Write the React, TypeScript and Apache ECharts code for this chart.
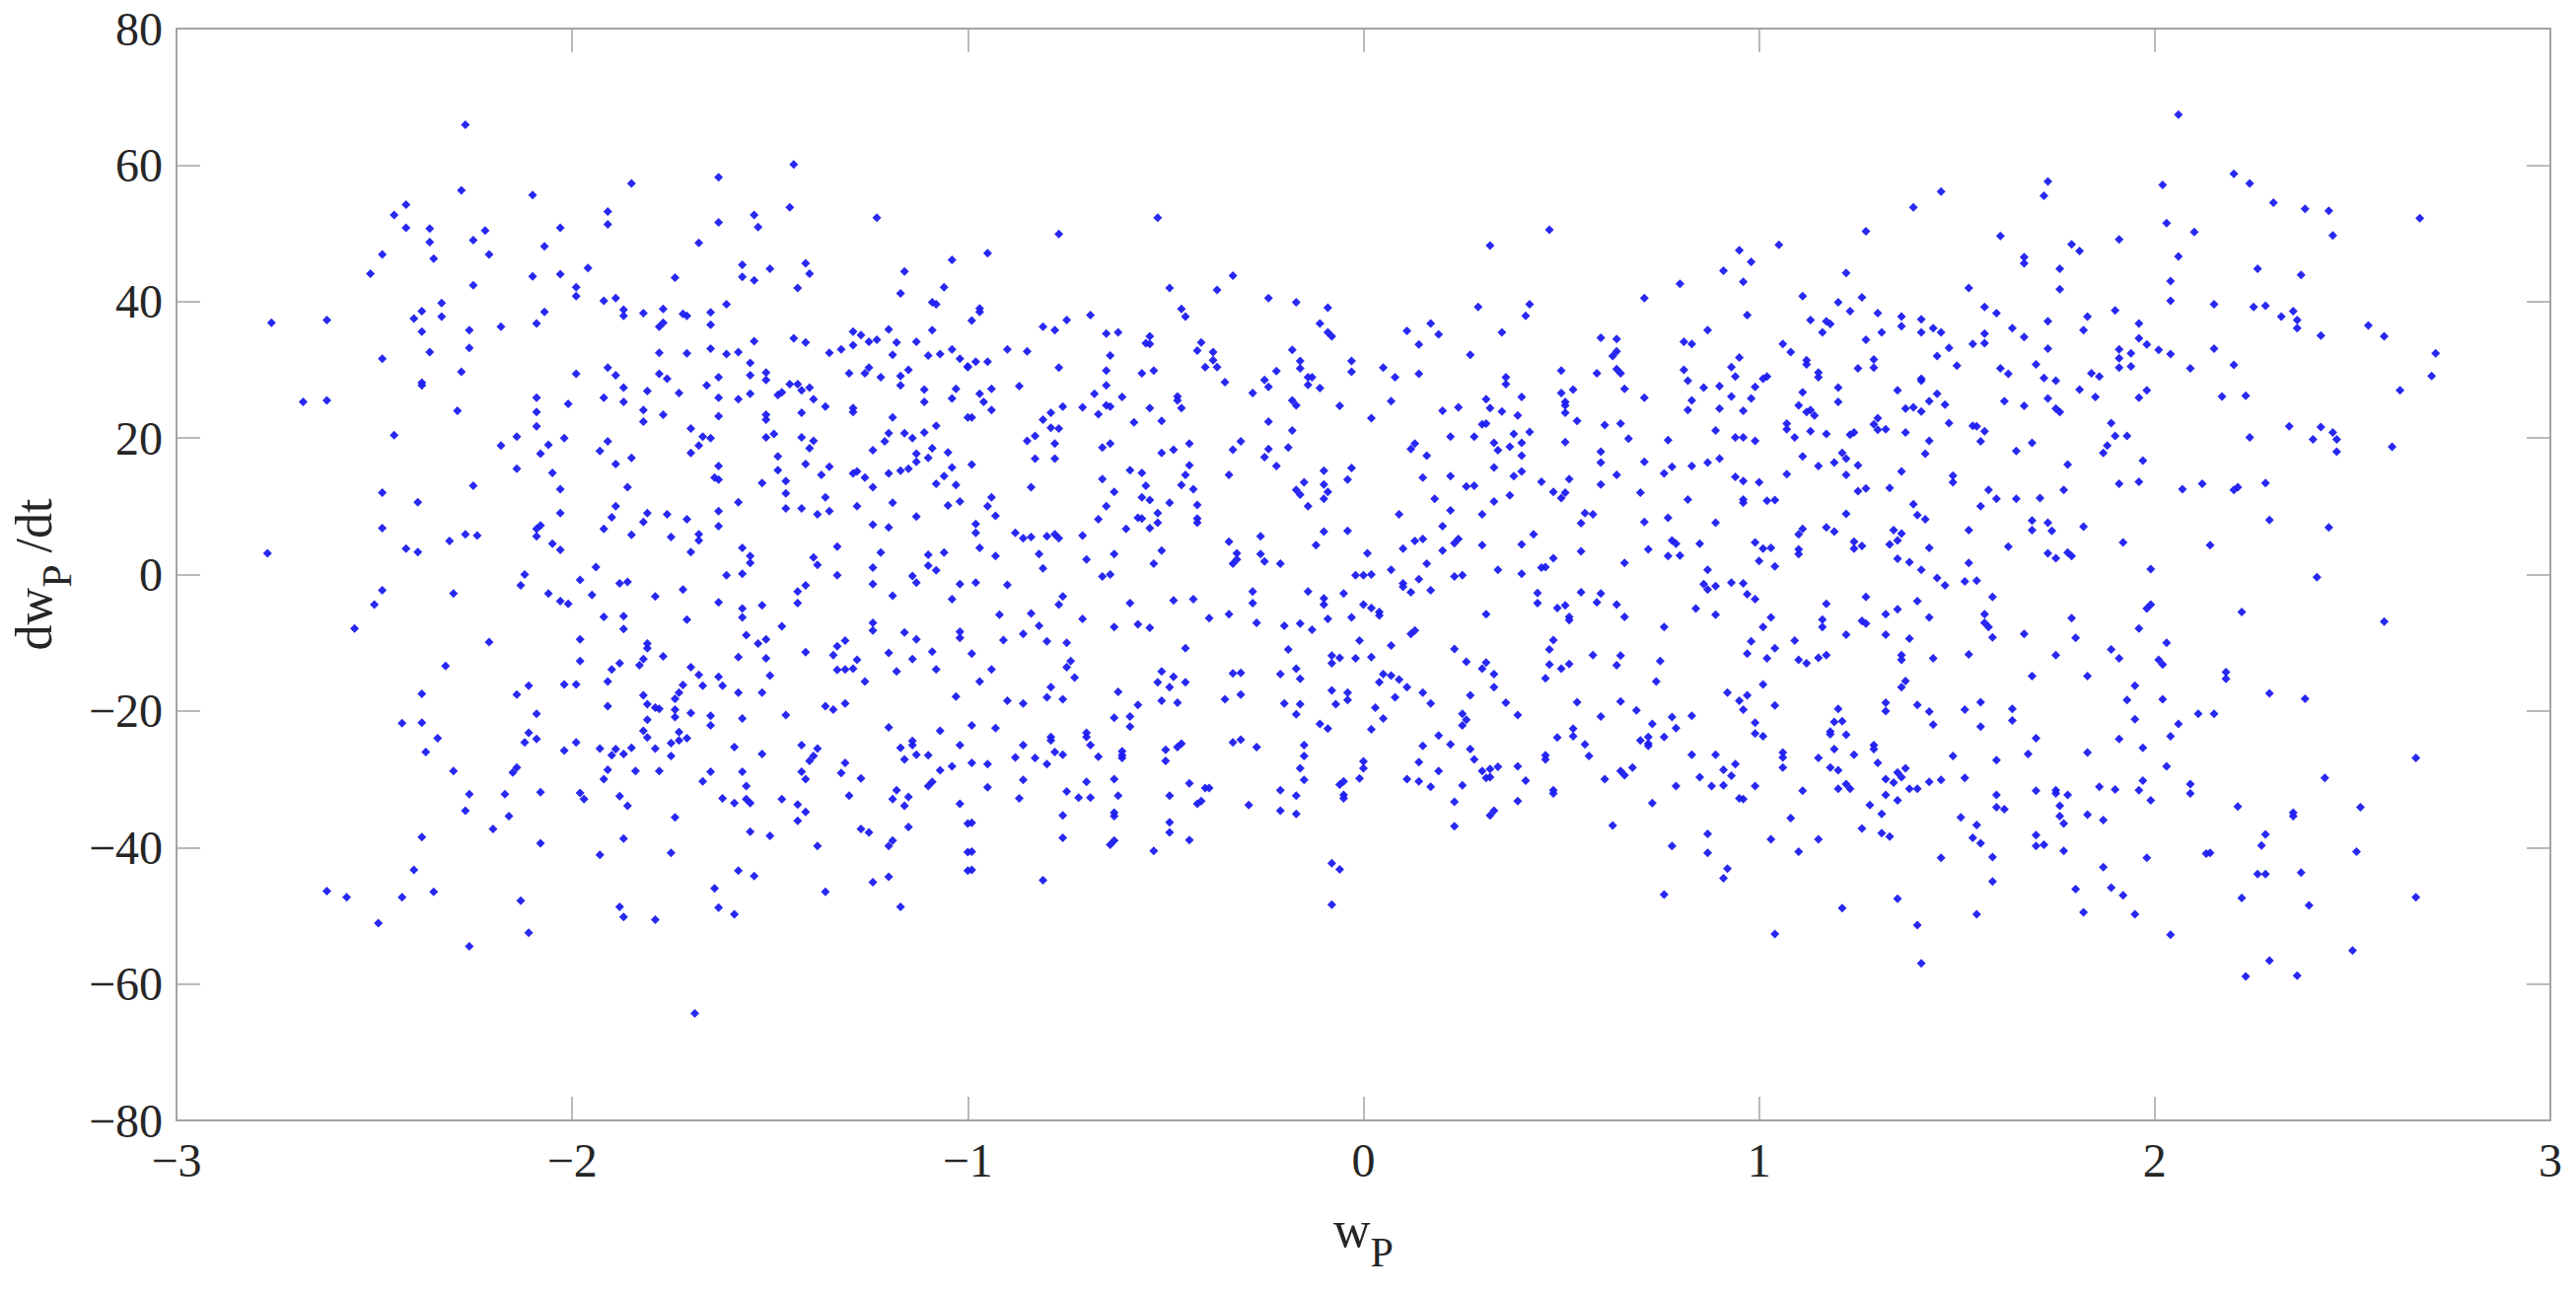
import React, { useEffect, useRef } from "react";
import * as echarts from "echarts";

const xTickValues = [-3, -2, -1, 0, 1, 2, 3];
const yTickValues = [-80, -60, -40, -20, 0, 20, 40, 60, 80];

const upperLeft: number[][] = [[-2.27,65.9],[-1.85,57.3],[-1.63,58.2],[-1.44,60.1],[-2.28,56.3],[-2.10,55.6],[-2.42,54.2],[-2.45,52.7],[-2.42,50.8],[-2.36,50.7],[-2.36,48.7],[-2.35,46.3],[-2.25,49.0],[-2.22,50.4],[-2.48,46.9],[-2.21,46.9],[-2.51,44.1],[-2.25,42.4],[-2.03,50.8],[-2.07,48.1],[-1.91,53.2],[-1.91,51.3],[-1.63,51.6],[-1.68,48.6],[-1.54,52.7],[-1.53,50.9],[-1.45,53.8],[-1.23,52.3],[-2.10,43.7],[-2.03,44.0],[-1.96,44.9],[-1.99,42.1],[-1.99,40.8],[-1.92,40.1],[-1.89,40.5],[-1.74,43.5],[-1.57,45.4],[-1.57,43.6],[-1.54,43.1],[-1.50,44.8],[-1.41,45.6],[-1.40,44.1],[-1.43,42.0],[-1.16,44.4],[-1.17,41.2],[-1.04,46.1],[-1.06,42.1],[-1.09,39.9],[-1.08,39.6],[-2.76,36.9],[-2.62,37.3],[-2.40,37.5],[-2.38,38.6],[-2.33,39.8],[-2.33,37.8],[-2.38,35.6],[-2.26,35.8],[-2.18,36.3],[-2.07,38.5],[-2.09,36.8],[-2.26,33.2],[-2.36,32.6],[-2.48,31.6],[-2.28,29.7],[-2.38,28.1],[-2.38,27.7],[-2.68,25.3],[-2.62,25.5],[-2.29,24.0],[-2.45,20.4],[-1.87,38.8],[-1.87,37.9],[-1.82,38.3],[-1.77,38.9],[-1.77,36.9],[-1.78,36.3],[-1.72,38.2],[-1.71,37.9],[-1.65,38.4],[-1.65,36.6],[-1.61,39.6],[-1.54,34.2],[-1.44,34.6],[-1.41,34.0],[-1.29,35.6],[-1.27,35.1],[-1.25,34.1],[-1.23,34.4],[-1.20,35.9],[-1.18,34.0],[-1.13,34.1],[-1.09,35.8],[-1.78,32.5],[-1.71,32.4],[-1.65,33.1],[-1.61,32.3],[-1.58,32.6],[-1.35,32.5],[-1.32,33.0],[-1.29,33.6],[-1.19,32.2],[-1.10,32.1],[-1.07,32.3],[-1.04,33.0],[-1.02,31.6],[-1.00,30.5],[-1.55,31.0],[-1.99,29.4],[-1.91,30.3],[-1.89,29.2],[-1.78,29.4],[-1.76,28.7],[-1.63,28.9],[-1.55,29.2],[-1.51,29.6],[-1.51,28.5],[-1.30,29.5],[-1.26,29.5],[-1.25,30.3],[-1.22,28.9],[-1.17,29.1],[-1.17,27.7],[-1.15,30.0],[-1.66,27.7],[-1.87,27.4],[-1.81,26.9],[-1.73,26.6],[-1.45,27.9],[-1.43,27.9],[-1.42,27.0],[-1.40,27.4],[-1.48,26.3],[-1.47,26.7],[-1.55,26.5],[-2.09,25.9],[-1.92,25.9],[-1.87,25.3],[-2.01,25.0],[-1.63,25.9],[-1.58,25.7],[-1.39,25.7],[-1.36,24.6],[-1.11,27.1],[-1.11,25.3],[-1.03,27.2],[-1.04,25.8],[-1.29,24.4],[-1.29,23.8],[-2.09,23.8],[-1.82,24.1],[-1.82,22.4],[-1.77,23.4],[-1.63,23.2],[-1.51,23.4],[-1.51,22.7],[-1.42,23.7],[-1.19,23.0],[-1.00,23.0],[-2.09,21.7],[-1.70,21.4],[-1.08,21.8],[-2.14,20.2],[-2.18,18.9],[-2.02,20.0],[-2.06,19.0],[-2.08,17.7],[-1.91,19.5],[-1.93,18.1],[-1.67,20.2],[-1.65,20.0],[-1.68,18.9],[-1.70,17.8],[-1.51,20.1],[-1.49,20.6],[-1.42,20.1],[-1.39,19.6],[-1.40,18.5],[-1.20,20.7],[-1.21,19.5],[-1.16,20.7],[-1.14,20.0],[-1.11,20.8],[-1.24,18.2],[-1.09,18.5],[-1.05,17.9],[-1.13,17.7],[-1.48,17.3],[-1.85,17.1],[-1.89,16.2],[-1.41,16.2],[-1.63,15.9],[-1.35,15.8],[-1.10,17.1],[-1.13,16.5],[-1.15,15.5],[-1.17,15.2],[-1.04,15.7],[-2.14,15.5],[-2.05,14.9],[-1.48,15.3],[-1.37,14.6],[-1.29,14.8],[-1.28,15.1],[-1.26,14.2],[-1.20,14.8],[-1.06,14.4],[-1.08,13.3],[-1.64,14.2],[-1.63,13.9],[-1.46,13.7],[-1.52,13.4],[-1.24,12.8],[-1.03,13.1],[-2.25,13.0],[-1.86,12.8],[-2.03,12.5],[-2.48,12.0],[-1.46,11.9],[-1.36,11.3],[-2.39,10.6],[-1.58,10.6],[-1.19,10.5],[-1.02,10.7],[-1.05,10.1],[-1.28,10.0],[-1.89,10.0],[-1.46,9.7],[-1.42,9.7],[-1.63,9.3],[-2.03,9.0],[-1.81,9.0],[-1.76,8.8],[-1.35,9.3],[-1.38,8.8],[-1.90,8.4],[-1.71,8.1],[-1.13,8.5],[-1.82,7.7],[-1.24,7.3],[-1.63,7.1],[-1.20,6.9],[-2.48,6.8],[-2.08,7.2],[-2.09,6.7],[-1.92,6.7],[-2.09,5.6],[-1.85,5.8],[-1.75,5.5],[-1.68,5.9],[-1.68,5.0],[-2.27,5.9],[-2.24,5.7],[-2.31,4.9],[-2.42,3.8],[-2.39,3.3],[-2.05,4.5],[-2.03,3.6],[-1.70,3.3],[-1.57,3.9],[-1.55,2.7],[-1.55,1.7],[-1.39,2.5],[-1.38,1.4],[-1.33,4.1],[-1.22,3.2],[-1.10,2.9],[-1.06,3.2],[-1.10,1.3],[-1.08,0.6],[-1.24,1.0],[-1.94,1.1],[-2.77,3.1]];

const lowerLeft: number[][] = [[-2.12,0.0],[-1.61,-0.1],[-1.57,0.1],[-1.33,-0.1],[-1.14,-0.2],[-1.13,-1.2],[-2.48,-2.3],[-2.50,-4.4],[-2.55,-7.9],[-2.30,-2.8],[-2.13,-1.6],[-1.98,-0.8],[-1.88,-1.3],[-1.86,-1.1],[-2.06,-2.8],[-2.03,-3.9],[-2.01,-4.3],[-1.95,-3.0],[-1.79,-3.2],[-1.72,-2.2],[-1.63,-4.1],[-1.57,-5.0],[-1.57,-6.3],[-1.52,-4.5],[-1.43,-2.5],[-1.41,-1.6],[-1.43,-4.2],[-1.24,-1.4],[-1.19,-3.1],[-1.04,-3.6],[-1.02,-1.4],[-1.92,-6.2],[-1.87,-6.1],[-1.87,-8.0],[-1.71,-6.6],[-1.47,-7.6],[-1.24,-7.1],[-1.24,-8.2],[-1.16,-8.5],[-1.13,-9.5],[-1.02,-8.4],[-1.02,-9.3],[-1.98,-9.5],[-2.21,-9.9],[-1.56,-8.9],[-1.53,-10.1],[-1.51,-9.5],[-1.31,-9.7],[-1.33,-10.5],[-1.81,-10.1],[-1.81,-10.8],[-1.77,-12.0],[-1.82,-12.4],[-1.83,-13.3],[-1.41,-11.4],[-1.34,-11.8],[-1.20,-11.5],[-1.09,-11.3],[-1.58,-12.1],[-1.51,-12.3],[-1.14,-12.4],[-1.98,-12.7],[-1.88,-13.0],[-1.90,-13.9],[-2.32,-13.4],[-1.28,-12.5],[-1.33,-14.0],[-1.31,-13.9],[-1.29,-13.8],[-1.18,-14.2],[-1.08,-13.9],[-1.70,-13.6],[-1.68,-14.7],[-1.63,-15.0],[-1.50,-14.8],[-1.91,-15.7],[-1.26,-15.7],[-2.02,-16.1],[-1.99,-16.1],[-2.11,-16.3],[-1.72,-16.2],[-1.67,-16.3],[-1.62,-16.3],[-2.14,-17.6],[-2.38,-17.5],[-1.82,-17.7],[-1.73,-17.3],[-1.74,-18.2],[-1.58,-17.3],[-1.52,-17.3],[-1.03,-17.9],[-1.81,-19.0],[-1.79,-19.5],[-1.78,-19.7],[-1.91,-19.3],[-1.31,-18.9],[-1.36,-19.3],[-1.34,-19.8],[-1.74,-19.8],[-1.74,-20.9],[-1.70,-20.3],[-2.09,-20.4],[-1.65,-20.7],[-1.46,-20.6],[-1.57,-21.1],[-1.81,-21.3],[-2.43,-21.8],[-2.38,-21.7],[-1.65,-22.1],[-1.20,-22.4],[-1.07,-22.9],[-1.82,-22.9],[-1.81,-23.9],[-2.11,-23.2],[-1.73,-23.1],[-2.09,-24.1],[-2.34,-24.0],[-1.73,-24.3],[-1.71,-24.0],[-1.75,-24.7],[-2.12,-24.6],[-1.99,-24.6],[-1.42,-25.0],[-1.59,-25.3],[-1.14,-24.4],[-1.14,-25.0],[-1.02,-25.0],[-2.02,-25.8],[-2.37,-26.0],[-1.93,-25.5],[-1.89,-25.6],[-1.90,-26.5],[-1.87,-26.3],[-1.85,-25.4],[-1.79,-25.5],[-1.75,-26.6],[-1.52,-26.3],[-1.38,-25.5],[-1.39,-26.6],[-1.40,-27.3],[-1.17,-25.4],[-1.16,-27.1],[-1.13,-26.4],[-1.10,-26.5],[-1.31,-27.6],[-1.32,-29.1],[-2.14,-28.3],[-2.15,-29.0],[-2.30,-28.8],[-1.91,-28.6],[-1.84,-28.8],[-1.78,-28.8],[-1.65,-28.9],[-1.57,-28.9],[-1.42,-28.9],[-1.04,-28.1],[-1.07,-28.7],[-1.41,-30.0],[-1.92,-30.0],[-1.67,-30.3],[-1.27,-29.9],[-1.09,-30.4],[-1.10,-31.0],[-1.56,-31.0],[-2.26,-32.2],[-2.17,-32.2],[-2.08,-31.9],[-1.98,-32.0],[-1.97,-32.9],[-1.88,-32.5],[-1.86,-33.9],[-1.62,-32.8],[-1.59,-33.5],[-1.56,-32.9],[-1.55,-33.5],[-1.47,-32.9],[-1.30,-32.4],[-1.18,-31.6],[-1.19,-32.9],[-1.15,-32.6],[-1.16,-33.9],[-1.43,-33.7],[-1.41,-34.8],[-1.02,-33.6],[-2.27,-34.6],[-2.16,-35.4],[-1.74,-35.6],[-1.43,-36.1],[-1.00,-36.5],[-2.20,-37.3],[-1.55,-37.7],[-1.50,-38.3],[-1.27,-37.3],[-1.25,-37.8],[-1.15,-37.0],[-2.38,-38.5],[-2.08,-39.4],[-1.87,-38.7],[-1.38,-39.8],[-1.19,-39.0],[-1.20,-39.8],[-1.93,-41.1],[-1.75,-40.8],[-1.00,-40.7],[-2.40,-43.3],[-1.58,-43.4],[-1.54,-44.2],[-1.00,-43.4],[-1.20,-44.3],[-1.24,-45.1],[-2.62,-46.4],[-2.57,-47.3],[-2.43,-47.3],[-2.35,-46.5],[-1.64,-46.0],[-1.36,-46.5],[-2.13,-47.8],[-1.88,-48.7],[-1.87,-50.2],[-1.63,-48.8],[-1.59,-49.8],[-1.79,-50.6],[-1.17,-48.7],[-2.49,-51.1],[-2.11,-52.5],[-2.26,-54.5],[-1.69,-64.3]];

const upperMiddle: number[][] = [[-0.52,52.3],[-0.77,49.9],[-0.95,47.1],[0.47,50.5],[0.32,48.2],[0.95,47.5],[0.98,45.8],[0.91,44.5],[0.96,42.9],[0.80,42.6],[-0.33,43.8],[-0.49,42.0],[-0.37,41.7],[-0.24,40.5],[-0.17,39.9],[-0.09,39.1],[0.71,40.5],[0.29,39.2],[0.42,39.6],[0.41,37.9],[0.97,38.0],[-0.97,39.0],[-0.97,38.5],[-0.99,37.2],[-0.81,36.3],[-0.78,35.8],[-0.75,37.3],[-0.69,38.0],[-0.65,35.3],[-0.62,35.5],[-0.54,34.9],[-0.55,33.9],[-0.54,33.8],[-0.46,38.9],[-0.45,37.8],[-0.11,36.8],[-0.09,35.5],[-0.08,34.9],[0.11,35.7],[0.17,36.8],[0.19,35.2],[0.14,33.7],[0.35,35.5],[0.60,34.7],[0.64,34.5],[0.81,34.1],[0.83,33.8],[0.87,35.8],[-0.41,34.0],[-0.42,32.8],[-0.38,32.6],[-0.90,33.0],[-0.85,32.7],[-0.18,32.9],[-0.64,32.1],[0.27,32.2],[0.64,32.7],[0.63,32.0],[0.95,31.8],[-0.03,31.3],[-0.16,31.3],[-0.16,30.2],[-0.38,31.4],[-0.40,30.4],[-0.37,30.4],[-0.95,31.2],[-0.98,31.2],[-1.00,30.4],[-0.77,30.3],[-0.65,29.9],[-0.56,29.5],[-0.53,29.9],[-0.22,29.8],[-0.03,29.7],[0.05,30.3],[0.14,29.4],[0.50,29.9],[0.59,29.5],[0.64,30.1],[0.65,29.5],[0.81,30.0],[0.93,30.4],[0.94,29.0],[-0.25,28.5],[0.08,28.9],[-0.14,28.9],[-0.13,28.9],[-0.14,27.8],[-0.35,28.2],[0.36,28.9],[0.36,27.9],[0.82,28.4],[-0.87,27.6],[-0.65,27.7],[-0.24,27.5],[-0.11,27.3],[0.86,27.4],[0.90,27.6],[0.99,27.5],[0.66,27.2],[0.53,27.1],[-0.94,27.2],[-0.97,26.5],[-0.68,26.5],[-0.28,26.6],[0.50,26.6],[-0.96,25.3],[-0.61,26.0],[-0.47,26.1],[-0.47,25.5],[0.40,26.0],[0.71,25.9],[0.31,25.7],[-0.18,25.5],[-0.17,24.8],[0.07,25.4],[0.93,26.1],[0.98,25.8],[0.83,25.5],[0.51,25.3],[0.51,24.8],[-0.65,24.8],[-0.64,24.6],[-0.76,24.6],[-0.71,24.5],[-0.54,24.4],[-0.46,24.4],[-0.06,24.7],[0.24,24.5],[0.32,24.4],[0.82,24.1],[0.90,24.3],[0.96,24.0],[-0.94,24.1],[0.20,24.0],[0.35,23.9],[0.51,23.7],[-0.79,23.7],[-0.67,23.5],[-0.81,22.7],[-0.99,23.0],[0.02,22.9],[0.39,23.3],[-0.58,22.3],[-0.51,22.5],[-0.24,22.4],[0.54,22.5],[0.30,22.0],[0.31,22.1],[0.61,21.9],[0.65,22.1],[-0.79,21.5],[-0.77,21.4],[-0.18,21.1],[0.89,21.1],[0.42,20.9],[-0.83,20.3],[-0.85,19.6],[0.38,20.6],[0.22,20.2],[0.28,20.2],[0.94,20.1],[0.96,20.1],[0.67,19.9],[0.77,19.7],[0.99,19.6],[0.51,19.4],[0.40,19.3],[0.33,19.3],[-0.78,19.2],[-0.44,19.2],[-0.64,19.2],[-0.66,18.6],[-0.31,19.5],[-0.33,18.3],[0.13,19.2],[0.12,18.4],[0.37,18.7],[0.34,18.2],[-0.19,18.6],[-0.24,18.4],[-0.48,18.3],[-0.51,17.8],[0.60,18.0],[0.16,17.4],[0.40,17.4],[-0.83,17.0],[-0.78,17.0],[-0.25,17.2],[0.90,17.0],[0.87,16.4],[0.60,16.4],[0.71,16.5],[-0.99,16.1],[-0.44,16.0],[-0.22,15.9],[0.78,15.8],[0.83,15.9],[0.33,15.7],[-0.03,15.6],[-0.59,15.3],[-0.56,14.9],[-0.10,15.2],[0.40,15.1],[0.76,14.8],[-0.45,14.6],[-0.34,14.6],[0.38,14.4],[0.64,14.6],[0.15,14.2],[0.22,14.4],[-0.66,14.0],[-0.04,13.9],[0.52,14.0],[0.94,14.3],[0.96,13.7],[0.45,13.6],[-0.15,13.5],[0.60,13.2],[-0.10,13.2],[-0.84,12.8],[-0.55,13.0],[-0.46,13.1],[-0.43,12.5],[0.26,12.9],[0.28,13.0],[-0.17,12.4],[-0.16,11.7],[-0.63,12.1],[-0.09,12.1],[0.48,12.1],[0.51,12.0],[0.70,12.0],[0.37,11.6],[-0.94,11.3],[-0.56,11.3],[-0.54,10.9],[0.18,11.1],[0.50,11.2],[-0.10,11.1],[0.82,11.0],[0.33,10.7],[0.96,11.0],[0.96,10.5],[-0.49,10.5],[-0.95,10.0],[-0.65,10.0],[-0.42,10.2],[-0.14,10.0],[0.22,9.4],[-0.52,9.0],[0.09,8.8],[0.30,8.8],[0.56,9.0],[0.58,8.8],[-0.93,8.6],[-0.57,8.3],[-0.56,8.2],[-0.67,8.1],[-0.42,8.2],[-0.42,7.6],[0.77,8.3],[0.71,7.7],[0.55,7.5],[0.89,7.6],[-0.98,7.4],[-0.98,6.1],[-0.52,7.6],[-0.54,6.8],[0.20,7.1],[-0.60,6.7],[-0.04,6.4],[-0.10,6.3],[-0.88,6.1],[-0.86,5.3],[-0.84,5.5],[-0.80,5.6],[-0.78,5.9],[-0.77,5.3],[-0.71,5.7],[-0.26,5.6],[0.43,5.9],[0.13,4.9],[0.15,5.2],[0.24,5.2],[0.23,4.6],[-0.34,4.8],[0.78,5.0],[0.79,4.5],[-0.12,4.3],[0.10,3.8],[0.30,4.3],[0.40,4.4],[0.85,4.5],[0.99,4.7],[-0.97,3.9],[0.72,3.7],[0.20,3.5],[0.55,3.4],[-0.51,3.5],[-0.82,3.0],[-0.63,3.0],[0.01,3.1],[-0.93,2.7],[0.77,2.7],[0.80,2.8],[-0.26,3.0],[-0.25,1.9],[-0.32,3.1],[-0.32,2.2],[-0.33,1.6],[0.48,2.4],[-0.70,2.2],[-0.21,1.6],[-0.53,1.6],[0.16,1.6],[0.66,1.7],[-0.81,0.9],[0.45,1.0],[0.46,1.1],[0.34,0.7],[0.07,0.7],[0.87,0.7]];

const lowerMiddle: number[][] = [[-0.98,-1.2],[-0.90,-1.5],[-0.66,-0.3],[-0.64,0.0],[-0.02,-0.1],[0.00,-0.1],[0.02,0.0],[0.23,-0.3],[0.25,-0.1],[0.40,0.1],[0.10,-1.3],[0.10,-1.8],[0.14,-0.7],[0.12,-2.6],[0.17,-2.3],[0.86,-1.4],[0.87,-2.2],[0.89,-1.7],[0.93,-1.2],[0.96,-1.3],[0.97,-2.9],[0.99,-3.6],[-0.28,-2.5],[-0.28,-4.2],[-0.76,-3.2],[-0.77,-4.4],[-0.59,-4.2],[-0.48,-3.8],[-0.43,-3.6],[-0.14,-2.5],[-0.10,-3.5],[-0.10,-4.4],[-0.05,-2.8],[0.44,-2.7],[0.44,-4.2],[0.55,-2.6],[0.60,-2.8],[0.59,-4.1],[0.64,-4.4],[0.49,-4.9],[0.51,-4.5],[0.00,-4.4],[0.02,-4.9],[0.04,-5.5],[0.04,-6.0],[0.84,-5.0],[-0.92,-5.9],[-0.84,-5.7],[-0.34,-5.8],[0.31,-5.8],[0.66,-6.2],[0.89,-5.9],[-0.71,-6.5],[-0.39,-6.4],[-0.09,-6.5],[-0.03,-6.3],[0.52,-6.2],[0.52,-6.7],[-0.82,-7.5],[-0.63,-7.7],[-0.57,-7.3],[-0.54,-7.8],[-0.27,-7.1],[-0.20,-7.5],[-0.16,-7.2],[-0.13,-8.1],[0.76,-7.7],[0.13,-8.2],[0.12,-8.7],[-0.86,-8.7],[-0.91,-9.6],[-0.80,-9.8],[-0.75,-10.0],[-0.01,-9.7],[0.07,-10.4],[0.48,-9.6],[0.47,-11.0],[0.98,-9.8],[-0.45,-10.8],[-0.19,-11.0],[0.23,-10.9],[-0.99,-11.6],[0.97,-11.6],[-0.08,-11.9],[-0.06,-12.2],[-0.08,-13.0],[-0.02,-12.3],[0.02,-12.1],[0.58,-11.8],[0.65,-11.9],[0.64,-13.3],[-0.74,-12.7],[-0.75,-13.6],[0.26,-12.8],[0.31,-12.9],[0.30,-13.8],[0.47,-13.2],[0.52,-13.1],[0.50,-13.8],[0.75,-12.7],[-0.94,-13.9],[-0.17,-13.8],[-0.51,-14.2],[-0.33,-14.5],[-0.31,-14.4],[-0.21,-14.6],[0.33,-14.6],[0.05,-14.6],[0.07,-14.8],[-0.48,-15.0],[-0.73,-15.1],[-0.16,-15.3],[0.09,-15.4],[0.46,-15.2],[-0.97,-15.7],[0.04,-15.8],[-0.52,-15.8],[-0.45,-15.8],[0.74,-15.7],[-0.49,-16.5],[-0.79,-16.5],[0.11,-16.5],[0.33,-16.5],[-0.08,-17.0],[-0.04,-17.3],[-0.62,-17.2],[0.15,-17.3],[0.92,-17.3],[0.97,-17.7],[-0.31,-17.6],[0.27,-17.7],[-0.80,-18.0],[-0.76,-18.3],[0.08,-18.0],[-0.04,-18.4],[-0.90,-18.5],[-0.86,-18.9],[-0.51,-18.5],[-0.47,-18.8],[-0.35,-18.3],[0.95,-18.5],[-0.20,-18.9],[-0.16,-19.0],[-0.07,-19.0],[0.17,-18.9],[0.36,-18.8],[0.54,-18.7],[0.65,-18.6],[-0.57,-19.1],[0.03,-19.5],[0.96,-19.8],[0.69,-19.9],[-0.17,-20.5],[0.25,-20.4],[0.39,-20.6],[-0.63,-21.0],[-0.59,-20.8],[0.60,-20.8],[0.83,-20.7],[0.78,-20.9],[0.05,-21.1],[0.26,-21.3],[0.25,-22.1],[-0.11,-21.9],[0.73,-21.9],[-0.99,-22.1],[-0.93,-22.5],[-0.59,-22.3],[-0.09,-22.6],[0.02,-22.7],[0.79,-22.5],[0.53,-22.6],[0.99,-21.7],[-0.70,-23.2],[-0.70,-23.8],[-0.79,-23.8],[-0.79,-24.3],[0.19,-23.6],[0.53,-23.7],[0.99,-23.3],[0.49,-23.9],[0.76,-23.8],[-0.31,-24.2],[-0.33,-24.6],[0.72,-23.8],[0.70,-24.3],[0.72,-24.8],[0.72,-25.1],[-0.86,-25.0],[-0.46,-24.8],[-0.47,-25.3],[-0.69,-25.0],[-0.15,-25.0],[0.15,-25.1],[0.22,-24.9],[-0.27,-25.3],[0.56,-24.9],[0.27,-25.6],[-0.50,-25.7],[-0.78,-26.0],[-0.76,-26.4],[-0.61,-25.9],[-0.61,-26.5],[-0.61,-26.9],[0.83,-26.4],[0.89,-26.4],[-0.88,-26.8],[-0.83,-26.9],[-0.67,-26.7],[-0.15,-26.6],[0.46,-26.5],[0.46,-27.1],[0.57,-26.6],[-0.50,-27.3],[0.28,-27.1],[-0.99,-27.6],[-0.95,-27.8],[-0.80,-27.8],[0.14,-27.5],[0.94,-27.8],[0.00,-27.4],[0.00,-28.4],[0.39,-28.1],[-0.16,-28.4],[0.34,-28.2],[0.32,-28.5],[0.68,-28.3],[0.65,-28.8],[0.66,-29.4],[0.19,-28.8],[0.30,-28.8],[0.91,-28.6],[0.93,-29.5],[0.31,-29.8],[0.32,-29.7],[-0.63,-30.0],[-0.86,-30.1],[-0.15,-30.1],[-0.01,-29.9],[0.11,-30.0],[0.14,-30.3],[0.41,-30.2],[0.85,-29.7],[-0.70,-30.4],[0.61,-30.0],[-0.05,-30.3],[-0.06,-30.8],[-0.44,-30.6],[0.25,-30.9],[0.17,-31.1],[-0.95,-31.2],[0.79,-31.0],[0.88,-31.0],[0.91,-30.9],[0.99,-31.0],[-0.40,-31.3],[-0.39,-31.3],[-0.21,-31.6],[0.48,-31.6],[0.48,-32.1],[-0.75,-31.8],[-0.72,-32.7],[-0.69,-32.7],[-0.62,-32.4],[-0.87,-32.8],[-0.49,-32.4],[-0.17,-32.4],[-0.05,-32.3],[-0.05,-32.8],[0.95,-32.8],[0.96,-32.9],[-0.41,-33.2],[-0.42,-33.6],[0.39,-33.2],[0.23,-33.3],[0.73,-33.5],[-0.29,-33.8],[-0.21,-34.6],[-0.17,-35.1],[-0.63,-34.9],[-0.63,-35.4],[-0.76,-35.3],[0.33,-34.6],[0.32,-35.3],[-0.99,-36.4],[-0.49,-36.3],[-0.49,-37.8],[0.23,-36.9],[0.63,-36.8],[0.87,-38.0],[-0.76,-38.6],[-0.44,-38.9],[-0.63,-39.0],[-0.64,-39.6],[0.78,-39.8],[-0.99,-40.6],[-0.53,-40.5],[0.87,-40.8],[-0.08,-42.3],[-0.06,-43.2],[-0.99,-43.3],[0.92,-43.1],[0.91,-44.5],[-0.81,-44.8],[0.76,-46.9],[-0.08,-48.4]];

const upperRight: number[][] = [[2.06,67.4],[2.20,58.7],[2.24,57.3],[2.02,57.1],[1.73,57.6],[1.72,55.5],[1.46,56.1],[1.39,53.8],[1.27,50.3],[1.05,48.3],[2.30,54.5],[2.38,53.6],[2.44,53.3],[2.67,52.2],[2.03,51.5],[2.10,50.2],[2.45,49.7],[1.61,49.6],[1.91,49.1],[1.79,48.4],[1.81,47.4],[2.06,46.6],[1.67,46.5],[1.67,45.6],[1.76,44.8],[2.26,44.8],[1.22,44.2],[2.37,43.9],[2.04,43.0],[1.53,42.0],[1.76,41.8],[1.11,40.8],[1.26,40.6],[1.20,39.9],[2.04,40.1],[2.15,39.6],[2.25,39.2],[2.28,39.4],[1.57,39.2],[1.23,38.6],[1.30,38.3],[1.60,38.3],[1.90,38.7],[2.35,38.6],[2.32,37.8],[1.36,37.8],[1.36,36.4],[1.41,37.4],[1.83,37.8],[1.13,37.3],[1.17,37.1],[1.18,36.7],[2.36,37.3],[2.36,36.1],[1.73,37.1],[1.96,36.8],[2.54,36.5],[1.44,36.1],[1.41,35.5],[1.46,35.5],[1.64,36.1],[1.16,35.5],[1.31,35.5],[1.82,35.8],[1.57,35.3],[1.67,34.8],[2.42,35.0],[2.58,34.9],[1.96,34.6],[1.27,34.4],[1.06,33.8],[1.54,33.8],[1.57,33.9],[1.98,33.7],[2.01,32.9],[1.48,33.2],[1.73,33.1],[2.15,33.1],[1.91,33.0],[1.91,31.7],[1.94,32.4],[1.08,32.6],[2.04,32.3],[2.71,32.4],[1.45,32.0],[1.29,31.5],[1.29,30.3],[1.12,31.4],[1.12,30.8],[1.70,30.8],[1.50,30.6],[2.20,30.7],[1.91,30.3],[1.94,30.5],[1.25,30.2],[1.61,30.2],[1.63,29.4],[2.09,30.2],[1.84,29.5],[1.86,29.0],[1.15,29.6],[1.15,28.9],[2.70,29.1],[1.02,29.0],[1.01,28.7],[1.41,28.7],[1.41,28.4],[1.72,28.8],[1.75,28.4],[1.20,27.4],[1.35,27.0],[1.81,27.1],[1.98,27.0],[2.62,27.0],[1.11,26.7],[1.45,26.5],[2.17,26.1],[2.23,26.2],[1.96,25.9],[1.85,26.0],[1.73,25.8],[1.43,25.4],[1.20,25.3],[1.62,25.4],[1.10,24.8],[1.47,24.9],[1.67,24.7],[1.37,24.3],[1.39,24.5],[1.41,23.9],[1.75,24.3],[1.76,23.8],[1.12,23.8],[1.13,24.1],[1.14,23.3],[1.30,22.9],[1.29,22.0],[1.48,22.2],[1.89,22.2],[1.07,22.1],[1.07,21.3],[1.54,21.8],[1.55,21.7],[2.34,21.7],[2.42,21.6],[1.30,21.2],[1.32,21.3],[1.57,21.0],[1.13,21.0],[1.17,20.6],[1.37,20.8],[1.24,20.8],[1.23,20.5],[2.45,20.8],[2.46,19.8],[1.09,20.1],[1.90,20.3],[1.93,20.3],[2.24,20.1],[2.40,19.8],[1.43,19.6],[1.56,19.5],[1.69,19.3],[1.88,18.9],[1.87,17.8],[1.65,18.1],[2.60,18.7],[1.42,17.7],[2.46,18.0],[1.21,17.8],[1.22,17.0],[1.11,17.3],[1.97,16.7],[1.19,16.4],[1.15,15.9],[1.25,16.0],[1.78,16.1],[1.36,15.1],[1.22,14.6],[1.07,14.7],[1.49,14.5],[1.49,13.5],[1.00,13.5],[1.91,13.3],[1.96,13.6],[2.12,13.3],[2.28,13.4],[2.21,12.8],[2.20,12.4],[1.33,12.7],[1.27,12.6],[1.25,12.2],[1.58,12.4],[1.77,12.4],[2.07,12.5],[1.02,10.8],[1.04,10.9],[1.60,11.1],[1.65,11.1],[1.71,11.2],[1.39,10.3],[1.56,10.0],[1.22,8.9],[1.40,8.7],[1.42,8.1],[2.29,8.0],[1.69,7.9],[1.73,7.6],[1.11,6.7],[1.10,5.9],[1.17,6.9],[1.19,6.3],[1.34,6.5],[1.36,6.0],[1.53,6.5],[1.69,6.5],[1.74,6.4],[1.82,7.0],[2.44,6.9],[1.24,4.8],[1.26,4.2],[1.35,5.0],[1.33,4.4],[1.92,4.7],[2.14,4.3],[1.01,3.8],[1.03,3.9],[1.24,3.8],[1.43,3.9],[1.63,4.1],[1.10,3.7],[1.10,3.0],[1.73,3.1],[1.78,3.2],[1.79,2.7],[1.75,2.4],[1.35,2.3],[1.38,1.8],[1.00,2.0],[1.53,1.7],[1.04,1.2],[1.99,0.8],[1.41,0.7]];

const lowerRight: number[][] = [[1.45,-0.5],[1.47,-1.6],[1.52,-1.0],[1.55,-0.9],[2.41,-0.4],[1.59,-3.3],[1.27,-3.3],[1.40,-3.9],[1.17,-4.3],[1.99,-4.4],[1.98,-5.0],[2.22,-5.5],[2.58,-6.9],[1.32,-5.8],[1.35,-5.1],[1.57,-5.8],[1.43,-6.3],[1.03,-6.3],[1.16,-6.6],[1.16,-7.7],[1.01,-7.7],[1.26,-6.8],[1.27,-7.2],[1.57,-7.1],[1.58,-7.7],[1.79,-6.4],[1.96,-7.9],[1.22,-8.8],[1.32,-8.8],[1.38,-9.4],[1.59,-9.2],[1.67,-8.7],[1.80,-9.3],[1.09,-9.7],[2.03,-10.0],[1.04,-10.8],[1.89,-11.0],[1.53,-11.7],[1.75,-11.8],[1.17,-11.8],[1.15,-12.2],[1.36,-11.8],[1.36,-12.5],[1.02,-12.3],[1.10,-12.5],[1.12,-13.0],[1.44,-12.3],[1.91,-12.3],[2.01,-12.5],[2.02,-13.2],[2.18,-14.3],[2.18,-15.3],[1.69,-14.9],[1.83,-14.9],[1.01,-16.1],[1.37,-15.6],[1.36,-16.5],[1.95,-16.3],[2.29,-17.4],[2.38,-18.2],[1.93,-18.4],[2.02,-18.3],[1.32,-18.8],[1.32,-20.0],[1.04,-19.2],[1.56,-18.7],[1.40,-19.1],[1.64,-19.7],[1.20,-19.7],[1.52,-19.8],[1.43,-20.1],[2.11,-20.4],[2.15,-20.4],[1.95,-21.2],[1.64,-21.4],[1.19,-21.6],[1.21,-21.5],[1.44,-22.0],[1.56,-22.3],[2.06,-21.9],[1.18,-23.0],[1.18,-23.4],[1.22,-23.5],[2.04,-23.7],[1.01,-23.7],[1.70,-24.0],[1.91,-24.1],[1.29,-25.0],[1.29,-25.6],[1.97,-25.4],[1.19,-25.6],[1.24,-26.4],[1.49,-26.6],[1.68,-26.3],[1.83,-26.1],[1.06,-26.1],[1.06,-26.8],[1.15,-26.9],[2.66,-26.9],[1.60,-27.2],[1.30,-27.6],[2.03,-28.1],[1.06,-28.3],[1.18,-28.3],[1.20,-28.7],[1.37,-28.4],[1.35,-29.0],[1.36,-29.7],[1.32,-30.0],[1.52,-29.8],[1.43,-30.4],[1.46,-30.1],[1.34,-30.5],[1.97,-30.2],[2.43,-29.8],[2.09,-30.7],[1.22,-30.7],[1.20,-31.4],[1.23,-31.4],[1.38,-31.4],[1.40,-31.4],[1.11,-31.7],[1.86,-31.1],[1.90,-31.5],[1.96,-31.6],[1.70,-31.7],[1.75,-31.6],[1.75,-32.1],[1.78,-32.3],[2.09,-32.1],[1.32,-32.3],[1.60,-32.3],[1.35,-33.1],[1.99,-33.1],[1.28,-33.8],[1.76,-33.9],[2.21,-34.0],[2.52,-34.1],[1.60,-34.1],[1.62,-34.4],[1.31,-35.1],[2.35,-34.9],[2.35,-35.4],[1.76,-35.4],[1.83,-35.2],[1.08,-35.7],[1.51,-35.6],[1.87,-36.0],[1.55,-36.7],[1.77,-36.5],[1.26,-37.2],[1.31,-37.9],[1.33,-38.4],[2.28,-38.1],[1.70,-38.2],[1.54,-38.6],[1.56,-39.4],[1.15,-38.8],[1.03,-38.8],[1.70,-39.8],[1.72,-39.6],[2.27,-39.7],[1.77,-40.5],[1.10,-40.6],[2.51,-40.6],[2.13,-40.9],[2.14,-40.8],[1.46,-41.5],[1.59,-41.4],[1.98,-41.5],[1.87,-42.9],[2.26,-43.9],[2.28,-43.9],[2.37,-43.7],[1.59,-45.0],[1.80,-46.1],[1.89,-45.9],[1.92,-47.0],[2.22,-47.4],[1.35,-47.5],[2.66,-47.3],[1.21,-48.9],[2.39,-48.5],[1.55,-49.8],[1.82,-49.5],[1.95,-49.8],[1.40,-51.4],[1.04,-52.7],[2.04,-52.8],[2.50,-55.1],[2.29,-56.6],[1.41,-57.0],[2.23,-58.9],[2.36,-58.8]];

const points = [...upperLeft, ...lowerLeft, ...upperMiddle, ...lowerMiddle, ...upperRight, ...lowerRight];

const frameColor = "#a3a3a3";
const textColor = "#262626";
const serif = "'Liberation Serif', serif";
const signed = (v: number) => String(v).replace("-", "\u2212");

const tickAxis = (extra: any) => ({
  type: "value",
  axisLine: { show: true, onZero: false, lineStyle: { color: frameColor, width: 2 } },
  axisTick: { show: true, inside: true, length: 24, lineStyle: { color: frameColor, width: 1.5 } },
  splitLine: { show: false },
  ...extra,
});

const labelStyle = { color: textColor, fontFamily: serif, fontSize: 48 };
const xNameRich = {
  m: { fontFamily: serif, fontSize: 52, color: textColor, padding: [0, 0, 24, 0] },
  s: { fontFamily: serif, fontSize: 42, color: textColor, padding: [24, 0, 0, 0] },
};
const yNameRich = {
  m: { fontFamily: serif, fontSize: 52, color: textColor, padding: [0, 0, 24, 0] },
  s: { fontFamily: serif, fontSize: 42, color: textColor, padding: [24, 12, 0, 0] },
};

export default function App() {
  const ref = useRef<HTMLDivElement>(null);
  useEffect(() => {
    const chart = echarts.init(ref.current!, null, { renderer: "svg" });
    chart.setOption({
      animation: false,
      backgroundColor: "#ffffff",
      grid: { left: 179, right: 26, top: 29, bottom: 174, containLabel: false, outerBoundsMode: "none" },
      xAxis: [
        tickAxis({
          position: "bottom", min: xTickValues[0], max: xTickValues[xTickValues.length - 1], interval: 1,
          axisLabel: { ...labelStyle, margin: 16, formatter: (v: number) => signed(v) },
          name: "{m|w}{s|P}", nameLocation: "middle", nameGap: 84,
          nameTextStyle: { rich: xNameRich },
        }),
        tickAxis({
          position: "top", min: xTickValues[0], max: xTickValues[xTickValues.length - 1], interval: 1,
          axisLabel: { show: false },
        }),
      ],
      yAxis: [
        tickAxis({
          position: "left", min: yTickValues[0], max: yTickValues[yTickValues.length - 1], interval: 20,
          axisLabel: { ...labelStyle, margin: 14, formatter: (v: number) => signed(v) },
          name: "{m|dw}{s|P}{m|/dt}", nameLocation: "middle", nameGap: 90, nameRotate: 90,
          nameTextStyle: { rich: yNameRich },
        }),
        tickAxis({
          position: "right", min: yTickValues[0], max: yTickValues[yTickValues.length - 1], interval: 20,
          axisLabel: { show: false },
        }),
      ],
      series: [
        {
          type: "scatter",
          data: points,
          symbol: "diamond",
          symbolSize: 9,
          itemStyle: { color: "#1c1cf0", opacity: 0.95 },
          silent: true,
        },
      ],
    });
    return () => chart.dispose();
  }, []);
  return <div ref={ref} style={{ position: "absolute", left: 0, top: 0, width: 2612, height: 1310 }} />;
}
